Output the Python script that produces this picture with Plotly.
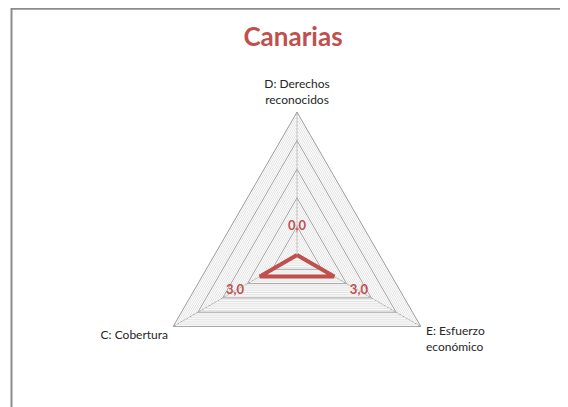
import plotly.graph_objects as go

categories = ["D: Derechos<br>reconocidos", "E: Esfuerzo<br>económico", "C: Cobertura"]
values = [0.0, 3.0, 3.0]
value_labels = ["0,0", "3,0", "3,0"]
major_levels = [2, 4, 6, 8, 10]

red = "#C0504D"
font_family = "Lato, 'Open Sans', sans-serif"

fig = go.Figure()

# darker major grid triangles
for lvl in major_levels:
    fig.add_trace(go.Scatterpolar(
        r=[lvl] * (len(categories) + 1),
        theta=categories + categories[:1],
        mode="lines",
        line=dict(color="#a6a6a6", width=1),
        hoverinfo="skip",
        showlegend=False,
    ))

# the series
fig.add_trace(go.Scatterpolar(
    r=values + values[:1],
    theta=categories + categories[:1],
    mode="lines",
    line=dict(color=red, width=4),
    showlegend=False,
))

# data labels, pushed a little outward from the points
fig.add_trace(go.Scatterpolar(
    r=[v + 2.0 for v in values],
    theta=categories,
    mode="text",
    text=value_labels,
    textfont=dict(color=red, size=13, family=font_family, weight="bold"),
    showlegend=False,
    hoverinfo="skip",
))

# page body adds an 8px offset, so positions below are shifted to compensate
fig.update_layout(
    width=568,
    height=407,
    margin=dict(l=0, r=0, t=0, b=0),
    paper_bgcolor="white",
    font=dict(family=font_family, color="#262626", size=12),
    title=dict(
        text="<b>Canarias</b>",
        x=285 / 568,
        xanchor="center",
        y=1 - 29 / 407,
        yanchor="middle",
        font=dict(size=26, color=red, family=font_family),
    ),
    polar=dict(
        domain=dict(x=[146 / 568, 432 / 568], y=[17 / 407, 303 / 407]),
        gridshape="linear",
        bgcolor="white",
        radialaxis=dict(
            range=[0, 10],
            dtick=0.25,
            showticklabels=False,
            ticks="",
            showline=False,
            gridcolor="#e3e3e3",
            gridwidth=1,
        ),
        angularaxis=dict(
            type="category",
            categoryarray=categories,
            rotation=90,
            direction="clockwise",
            showline=True,
            linecolor="#a6a6a6",
            linewidth=1,
            gridcolor="#a6a6a6",
            ticks="outside",
            ticklen=3,
            tickcolor="rgba(0,0,0,0)",
            tickfont=dict(size=12, color="#262626"),
        ),
    ),
    shapes=[dict(
        type="rect", xref="paper", yref="paper",
        x0=3.5 / 568, x1=1.05, y0=-0.05, y1=1 - 0.8 / 407,
        line=dict(color="#8c8c8c", width=2),
        fillcolor="rgba(0,0,0,0)",
    )],
)

fig.write_html("out.html")
